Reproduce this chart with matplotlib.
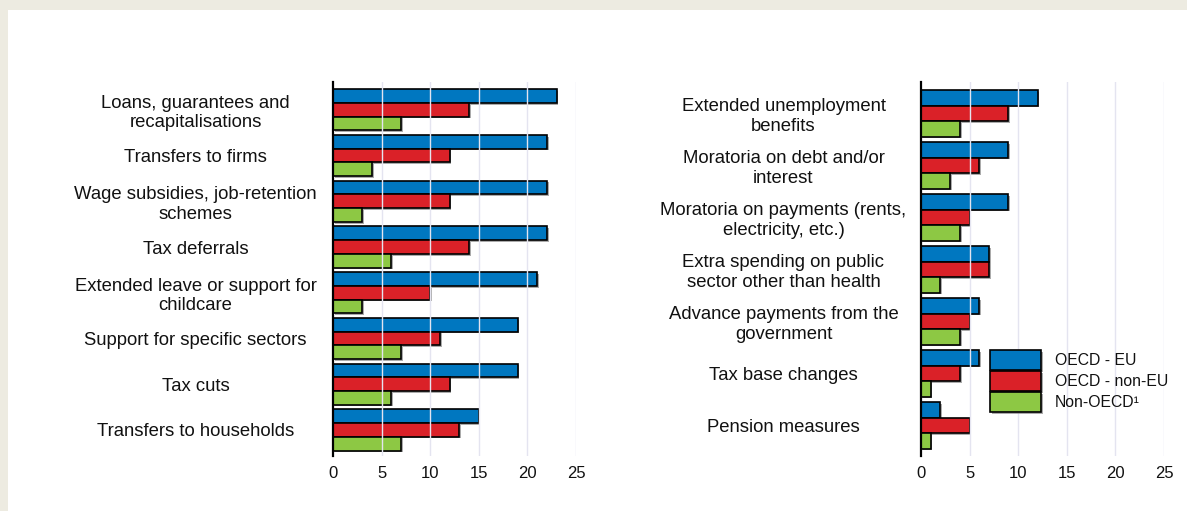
import matplotlib
matplotlib.use("Agg")
import matplotlib.pyplot as plt
import matplotlib.patheffects as pe
import numpy as np

plt.rcParams['font.family'] = ['Liberation Sans', 'DejaVu Sans']

left_categories = ["Loans, guarantees and\nrecapitalisations", "Transfers to firms",
                   "Wage subsidies, job-retention\nschemes", "Tax deferrals",
                   "Extended leave or support for\nchildcare", "Support for specific sectors",
                   "Tax cuts", "Transfers to households"]
left_eu = [23, 22, 22, 22, 21, 19, 19, 15]
left_noneu = [14, 12, 12, 14, 10, 11, 12, 13]
left_nonoecd = [7, 4, 3, 6, 3, 7, 6, 7]

right_categories = ["Extended unemployment\nbenefits", "Moratoria on debt and/or\ninterest",
                    "Moratoria on payments (rents,\nelectricity, etc.)",
                    "Extra spending on public\nsector other than health",
                    "Advance payments from the\ngovernment", "Tax base changes", "Pension measures"]
right_eu = [12, 9, 9, 7, 6, 6, 2]
right_noneu = [9, 6, 5, 7, 5, 4, 5]
right_nonoecd = [4, 3, 4, 2, 4, 1, 1]

series_names = ["OECD - EU", "OECD - non-EU", "Non-OECD\u00b9"]
colors = ["#0077C0", "#DA2128", "#8DC844"]
xticks = [0, 5, 10, 15, 20, 25]

W, H = 1187, 511
fig = plt.figure(figsize=(W / 100, H / 100), dpi=100)
fig.patch.set_facecolor("#EDEBE1")
fig.patches.append(plt.Rectangle((8 / W, 0), 1, 1 - 10 / H, transform=fig.transFigure,
                                 facecolor="white", edgecolor="none", zorder=-10))

shadow = [pe.SimplePatchShadow(offset=(1.2, -1.2), shadow_rgbFace="#888888", alpha=0.7), pe.Normal()]


def panel(x0px, cats, vals, ylim):
    ax = fig.add_axes([x0px / W, (H - 456) / H, 243 / W, 374 / H])
    ax.set_facecolor("none")
    n = len(cats)
    y = np.arange(n)
    h = 0.3
    for k, (v, c) in enumerate(zip(vals, colors)):
        bars = ax.barh(y + (k - 1) * h, v, height=h, color=c, edgecolor="black",
                       linewidth=1.2, zorder=2, label=series_names[k])
        for b in bars:
            b.set_path_effects(shadow)
    for xv in xticks[1:]:
        ax.axvline(xv, color="#E4E4F0", lw=1, zorder=3)
    ax.set_xlim(0, 25)
    ax.set_ylim(ylim[1], ylim[0])
    ax.set_yticks(y)
    ax.set_yticklabels(cats, fontsize=13.3, color="#111111", linespacing=1.2)
    for t in ax.get_yticklabels():
        t.set_ha("center")
    ax.tick_params(axis="y", length=0, pad=99)
    ax.set_xticks(xticks)
    ax.set_xticklabels([str(v) for v in xticks], fontsize=12, color="#111111")
    ax.tick_params(axis="x", length=0, pad=7)
    for s in ["top", "right", "bottom"]:
        ax.spines[s].set_visible(False)
    ax.spines["left"].set_linewidth(1.6)
    ax.spines["left"].set_color("black")
    ax.spines["left"].set_zorder(4)
    return ax


axL = panel(333, left_categories, [left_eu, left_noneu, left_nonoecd], (-0.61, 7.57))
axR = panel(921, right_categories, [right_eu, right_noneu, right_nonoecd], (-0.604, 6.59))

leg = axR.legend(loc="upper left", bbox_to_anchor=(990 / W, 1 - 350 / H),
                 bbox_transform=fig.transFigure, frameon=False, fontsize=11.3,
                 handlelength=3.25, handleheight=1.6, labelspacing=0.06,
                 handletextpad=0.9, borderpad=0, borderaxespad=0)
for p in leg.get_patches():
    p.set_path_effects(shadow)
for t in leg.get_texts():
    t.set_color("#111111")

fig.savefig("out.png", dpi=100, facecolor=fig.get_facecolor())
